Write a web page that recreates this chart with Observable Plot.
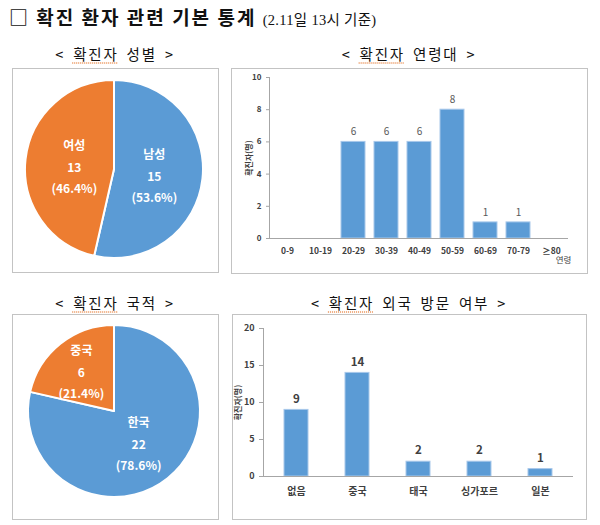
<!DOCTYPE html>
<html><head><meta charset="utf-8">
<script src="https://cdn.jsdelivr.net/npm/d3@7"></script>
<script src="https://cdn.jsdelivr.net/npm/@observablehq/plot@0.6"></script>
<style>
body{margin:0;background:#fff;}
#root{position:relative;width:600px;height:525px;font-family:"Noto Sans CJK KR","Noto Sans",sans-serif;color:#111;overflow:hidden;background:#fff}
.t{position:absolute;white-space:nowrap}
.sub{position:absolute;transform:translate(-50%,-50%);font-size:14.5px;letter-spacing:1.8px;word-spacing:3px;white-space:nowrap;color:#111}
.sp{text-decoration:underline dotted #e8894a;text-underline-offset:3px}
.panel{position:absolute}
.panel svg{display:block;outline:1px solid #c3c3c3;outline-offset:-1px;background:#fff}
</style></head>
<body>
<div id="root">
  <div class="t" style="left:9px;top:3px;font-size:19px;font-weight:bold;letter-spacing:2px;line-height:28px">□ 확진 환자 관련 기본 통계 <span style="font-size:14.5px;font-weight:normal;letter-spacing:0.3px;font-family:'Liberation Serif','Noto Sans CJK KR',serif">(2.11일 13시 기준)</span></div>
  <div class="sub" style="left:115px;top:53px">&lt; <span class="sp">확진자</span> 성별 &gt;</div>
  <div class="sub" style="left:409px;top:53px">&lt; <span class="sp">확진자</span> 연령대 &gt;</div>
  <div class="sub" style="left:115px;top:302px">&lt; <span class="sp">확진자</span> 국적 &gt;</div>
  <div class="sub" style="left:409px;top:302px">&lt; <span class="sp">확진자</span> 외국 방문 여부 &gt;</div>
  <div class="panel" id="p1" style="left:12px;top:68px"></div>
  <div class="panel" id="p2" style="left:231px;top:68px"></div>
  <div class="panel" id="p3" style="left:12px;top:314px"></div>
  <div class="panel" id="p4" style="left:232px;top:314px"></div>
</div>
<script>
// ---- data ----
const sexLabels = ["남성", "여성"];
const sexValues = [15, 13];
const natLabels = ["한국", "중국"];
const natValues = [22, 6];
const ageGroups = ["0-9", "10-19", "20-29", "30-39", "40-49", "50-59", "60-69", "70-79", "≥80"];
const ageCounts = [0, 0, 6, 6, 6, 8, 1, 1, 0];
const ageTicks = [0, 2, 4, 6, 8, 10];
const travelLabels = ["없음", "중국", "태국", "싱가포르", "일본"];
const travelCounts = [9, 14, 2, 2, 1];
const travelTicks = [0, 5, 10, 15, 20];
const sliceColors = ["#5B9BD5", "#ED7D31"];

const FONT = "'Noto Sans CJK KR','Noto Sans',sans-serif";
const BAR = "#5B9BD5";
const AXIS = "#a6a6a6";

function pieChart(labels, values, {width, height, cx, cy, r}) {
  const total = d3.sum(values);
  const data = labels.map((l, i) => ({label: l, value: values[i], color: sliceColors[i]}));
  const arcs = d3.pie().sort(null).value(d => d.value)(data);
  const lab = arcs.map(a => {
    const mid = (a.startAngle + a.endAngle) / 2;
    const alpha = (a.endAngle - a.startAngle) / 2;
    const k = Math.max(2 * Math.sin(alpha) / (3 * alpha), 0.45);
    return {x: k * Math.sin(mid), y: k * Math.cos(mid),
      text: `${a.data.label}\n${a.data.value}\n(${(a.data.value / total * 100).toFixed(1)}%)`};
  });
  return Plot.plot({
    width, height, margin: 0,
    x: {domain: [-1, 1], range: [cx - r, cx + r], axis: null},
    y: {domain: [-1, 1], range: [cy + r, cy - r], axis: null},
    style: {fontFamily: FONT, background: "#fff"},
    marks: [
      (index, scales) => {
        const x0 = scales.x(0), y0 = scales.y(0), rad = scales.x(1) - x0;
        const arc = d3.arc().innerRadius(0).outerRadius(rad);
        const g = d3.create("svg:g").attr("transform", `translate(${x0},${y0})`);
        g.selectAll("path").data(arcs).join("path")
          .attr("d", arc).attr("fill", d => d.data.color)
          .attr("stroke", "#fff").attr("stroke-width", 2).attr("stroke-linejoin", "round");
        return g.node();
      },
      Plot.text(lab, {x: "x", y: "y", text: "text", fill: "white", fontSize: 12, fontWeight: "bold", lineHeight: 1.8})
    ]
  });
}

document.getElementById("p1").append(pieChart(sexLabels, sexValues, {width: 207, height: 205, cx: 102, cy: 101, r: 89}));
document.getElementById("p3").append(pieChart(natLabels, natValues, {width: 207, height: 206, cx: 102, cy: 97, r: 86}));

const ageData = ageGroups.map((g, i) => ({group: g, count: ageCounts[i]}));
document.getElementById("p2").append(Plot.plot({
  width: 357, height: 206, marginLeft: 38, marginRight: 20, marginTop: 9, marginBottom: 36,
  x: {domain: ageGroups, paddingInner: 0.28, paddingOuter: 0.06},
  y: {domain: [0, 10]},
  style: {fontFamily: FONT, background: "#fff"},
  marks: [
    Plot.axisY({ticks: ageTicks, tickSize: 3, tickPadding: 5, fontSize: 8, fontWeight: "bold", fill: "#404040", stroke: AXIS, label: null}),
    Plot.axisX({tickSize: 0, tickPadding: 9, fontSize: 8.5, fontWeight: "bold", fill: "#404040", label: null}),
    Plot.frame({anchor: "left", stroke: AXIS}),
    Plot.barY(ageData, {x: "group", y: "count", fill: BAR, stroke: "#a8c8ea", strokeWidth: 1}),
    Plot.ruleY([0], {stroke: AXIS}),
    Plot.text(ageData.filter(d => d.count > 0), {x: "group", y: "count", text: d => String(d.count), dy: -10, fontSize: 10, fill: "#595959"}),
    Plot.text(["확진자(명)"], {text: d => d, frameAnchor: "left", rotate: -90, dx: -20, textAnchor: "middle", fontSize: 8, fontWeight: "bold", fill: "#404040"}),
    Plot.text(["연령"], {text: d => d, frameAnchor: "bottom-right", dx: -5, dy: 22, textAnchor: "middle", lineAnchor: "middle", fontSize: 8.5, fill: "#404040"})
  ]
}));

const travelData = travelLabels.map((c, i) => ({country: c, count: travelCounts[i]}));
document.getElementById("p4").append(Plot.plot({
  width: 355, height: 206, marginLeft: 31, marginRight: 14, marginTop: 14, marginBottom: 44,
  x: {domain: travelLabels, paddingInner: 0.61, paddingOuter: 0.31},
  y: {domain: [0, 20]},
  style: {fontFamily: FONT, background: "#fff"},
  marks: [
    Plot.axisY({ticks: travelTicks, tickSize: 4, tickPadding: 5, fontSize: 9, fontWeight: "bold", fill: "#404040", stroke: AXIS, label: null}),
    Plot.axisX({tickSize: 0, tickPadding: 11, fontSize: 10, fontWeight: "bold", fill: "#404040", label: null}),
    Plot.frame({anchor: "left", stroke: AXIS}),
    Plot.barY(travelData, {x: "country", y: "count", fill: BAR, stroke: "#a8c8ea", strokeWidth: 1}),
    Plot.ruleY([0], {stroke: AXIS}),
    Plot.text(travelData, {x: "country", y: "count", text: d => String(d.count), dy: -11, fontSize: 11.5, fontWeight: "bold", fill: "#404040"}),
    Plot.text(["확진자(명)"], {text: d => d, frameAnchor: "left", rotate: -90, dx: -25, textAnchor: "middle", fontSize: 8, fontWeight: "bold", fill: "#404040"})
  ]
}));
</script>
</body></html>
